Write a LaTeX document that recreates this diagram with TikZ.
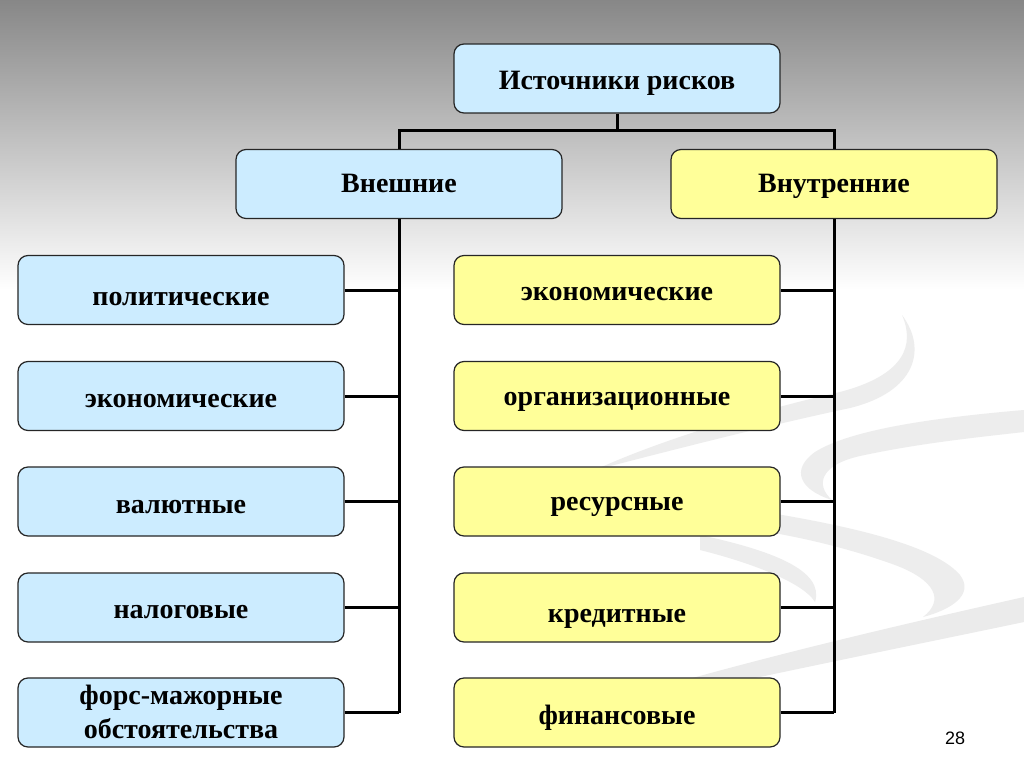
\documentclass[tikz,border=0pt]{standalone}
\usepackage{fontspec}
\setmainfont{Liberation Serif}
\setsansfont{Liberation Sans}
\definecolor{boxblue}{RGB}{204,236,255}
\definecolor{boxyellow}{RGB}{255,255,153}
\newcommand\bx[2]{\raisebox{-#1pt}{#2}}
\begin{document}
\begin{tikzpicture}[x=1pt,y=-1pt,
  box/.style={draw=black!85, line width=1.2pt, rounded corners=10pt,
    minimum width=326pt, minimum height=69pt, inner sep=0pt,
    text height=0pt, text depth=0pt,
    font=\bfseries\fontsize{28}{28}\selectfont},
  bluebox/.style={box, fill=boxblue},
  yelbox/.style={box, fill=boxyellow},
  conn/.style={line width=3pt, black},
  swoosh/.style={fill=gray!14}]
\useasboundingbox (0,0) rectangle (1024,767);
\fill[white] (0,0) rectangle (1024,767);
\shade[top color=black!47, bottom color=white] (0,0) rectangle (1024,290);
% decorative swooshes
\fill[swoosh] (902,315) .. controls (915,345) and (905,375) .. (840,392)
  .. controls (760,410) and (660,440) .. (595,470)
  .. controls (680,448) and (770,425) .. (850,408)
  .. controls (915,392) and (928,350) .. (902,315) -- cycle;
\fill[swoosh] (1024,410) .. controls (930,418) and (850,430) .. (815,452)
  .. controls (790,470) and (800,490) .. (832,500)
  .. controls (815,485) and (820,465) .. (860,456)
  .. controls (920,443) and (980,437) .. (1024,432) -- cycle;
\fill[swoosh] (720,505) .. controls (820,520) and (930,540) .. (960,575)
  .. controls (975,595) and (950,610) .. (923,617)
  .. controls (945,600) and (935,580) .. (895,565)
  .. controls (840,545) and (780,532) .. (720,525) -- cycle;
\fill[swoosh] (700,535) .. controls (770,550) and (825,570) .. (815,602)
  .. controls (805,585) and (760,565) .. (700,550) -- cycle;
\fill[gray!16] (1024,597) .. controls (900,625) and (700,670) .. (520,730)
  .. controls (700,688) and (900,648) .. (1024,622) -- cycle;

% nodes
\node[bluebox] (src) at (617,78.5) {\bx{11.5}{Источники рисков}};
\node[bluebox] (ext) at (399,184) {\bx{9}{Внешние}};
\node[yelbox]  (int) at (834,184) {\bx{9}{Внутренние}};

\node[bluebox] (l1) at (181,290) {\bx{15}{политические}};
\node[bluebox] (l2) at (181,396) {\bx{11}{экономические}};
\node[bluebox] (l3) at (181,501.5) {\bx{11.5}{валютные}};
\node[bluebox] (l4) at (181,607.5) {\bx{10.5}{налоговые}};
\node[bluebox] (l5) at (181,712.5) {\bx{-8.5}{\begin{tabular}[t]{@{}c@{}}форс-мажорные\\[6pt]обстоятельства\end{tabular}}};

\node[yelbox] (r1) at (617,290) {\bx{10}{экономические}};
\node[yelbox] (r2) at (617,396) {\bx{9}{организационные}};
\node[yelbox] (r3) at (617,501.5) {\bx{8.5}{ресурсные}};
\node[yelbox] (r4) at (617,607.5) {\bx{14.5}{кредитные}};
\node[yelbox] (r5) at (617,712.5) {\bx{12}{финансовые}};

\node[font=\sffamily\fontsize{18}{20}\selectfont] (pg) at (955,738) {28};

% connectors
\coordinate (j) at (617,131);
\draw[conn] (src.south) -- (j);
\draw[conn] (ext.north) |- (j) -| (int.north);
\draw[conn] (ext.south) -- (ext.south |- l5.east);
\draw[conn] (int.south) -- (int.south |- r5.east);
\foreach \i in {1,...,5}{
  \draw[conn] (l\i.east) -- (l\i.east -| ext.south);
  \draw[conn] (r\i.east) -- (r\i.east -| int.south);
}
\end{tikzpicture}
\end{document}
